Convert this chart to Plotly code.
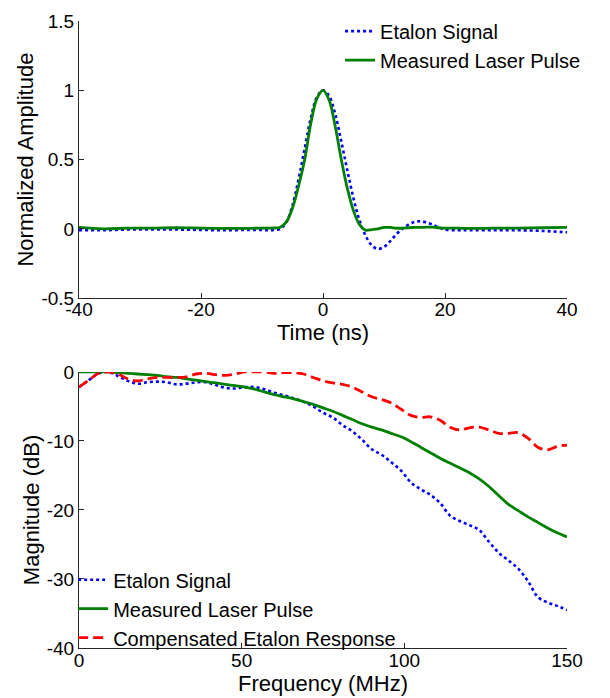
import plotly.graph_objects as go

# top panel: time domain pulse
time_ns = [-40, -36, -32, -28, -24, -20, -16, -12, -10, -9, -8, -7, -6, -5, -4, -3, -2, -1, 0,
           1, 2, 3, 4, 5, 6, 7, 8, 9, 10, 11, 12, 13, 14, 15, 16, 17, 18, 19, 20,
           22, 24, 28, 32, 36, 40]
etalon_time = [-0.01, -0.01, -0.005, -0.005, -0.005, -0.008, -0.01, -0.008, -0.008, -0.01, -0.008, 0.0, 0.05, 0.17,
               0.36, 0.58, 0.8, 0.95, 1.0, 0.96, 0.83, 0.63, 0.42, 0.22, 0.06, -0.05, -0.12, -0.145, -0.13,
               -0.09, -0.04, 0.0, 0.03, 0.05, 0.055, 0.045, 0.03, 0.01, -0.005,
               -0.01, -0.01, -0.01, -0.01, -0.015, -0.025]
laser_time = [0.01, 0.0, 0.005, 0.005, 0.008, 0.005, 0.003, 0.004, 0.005, 0.005, 0.006, 0.012, 0.05, 0.15,
              0.31, 0.5, 0.76, 0.94, 1.0, 0.93, 0.74, 0.5, 0.29, 0.13, 0.03, -0.01, -0.005, 0.0, 0.01,
              0.01, 0.005, 0.005, 0.008, 0.01, 0.01, 0.012, 0.012, 0.008, 0.005,
              0.005, 0.003, 0.005, 0.005, 0.008, 0.01]

# bottom panel: spectra
freq_mhz = [0, 3, 6, 9, 12, 15, 18, 21, 24, 27, 30, 33, 36, 39, 42, 45, 48, 51, 54, 57, 60, 63, 66, 69,
            72, 75, 78, 81, 84, 87, 90, 93, 96, 99, 102, 105, 108, 111, 114, 117, 120, 123, 126,
            129, 132, 135, 138, 141, 144, 147, 150]
etalon_db = [-2.2, -1.2, -0.2, 0.0, -0.6, -1.3, -1.7, -1.5, -1.4, -1.5, -1.8, -1.7, -1.5, -1.5, -1.9, -2.3,
             -2.4, -2.2, -2.2, -2.5, -3.0, -3.4, -3.8, -4.3, -5.0, -5.9, -6.6, -7.7, -8.6, -9.8, -11.2,
             -12.0, -13.1, -14.3, -16.0, -17.0, -17.8, -19.0, -20.8, -21.6, -22.2, -22.9, -24.6, -26.2,
             -27.3, -28.5, -30.3, -32.6, -33.4, -33.9, -34.5]
laser_db = [0.0, 0.0, 0.0, 0.0, -0.1, -0.2, -0.3, -0.4, -0.5, -0.7, -0.8, -1.0, -1.2, -1.4, -1.6, -1.8,
            -2.0, -2.2, -2.5, -2.9, -3.3, -3.6, -3.9, -4.3, -4.7, -5.2, -5.7, -6.3, -6.9, -7.5, -8.0,
            -8.4, -8.9, -9.4, -10.1, -10.9, -11.7, -12.5, -13.2, -13.9, -14.6, -15.5, -16.6, -17.9,
            -19.2, -20.1, -21.0, -21.8, -22.6, -23.3, -23.9]
compensated_db = [-2.2, -1.2, -0.2, 0.0, -0.3, -1.0, -1.3, -1.0, -0.8, -0.8, -0.8, -0.7, -0.3, -0.2, -0.4, -0.5,
                  -0.3, 0.0, 0.0, 0.0, -0.2, -0.1, -0.1, -0.3, -0.8, -1.3, -1.6, -1.8, -2.2, -2.9, -3.6,
                  -4.0, -4.5, -5.4, -6.3, -6.6, -6.5, -7.0, -8.0, -8.4, -8.1, -8.0, -8.4, -8.9, -8.9,
                  -8.8, -9.6, -10.9, -11.3, -10.8, -10.6]

BLUE = "rgb(0,0,255)"
GREEN = "rgb(0,128,0)"
RED = "rgb(255,0,0)"

fig = go.Figure()
fig.add_trace(go.Scatter(x=time_ns, y=etalon_time, name="Etalon Signal", mode="lines",
                         line=dict(color=BLUE, dash="3px,3px", width=2.6, shape="spline"),
                         xaxis="x", yaxis="y", legend="legend"))
fig.add_trace(go.Scatter(x=time_ns, y=laser_time, name="Measured Laser Pulse", mode="lines",
                         line=dict(color=GREEN, width=2.8, shape="spline"),
                         xaxis="x", yaxis="y", legend="legend"))
fig.add_trace(go.Scatter(x=freq_mhz, y=etalon_db, name="Etalon Signal", mode="lines",
                         line=dict(color=BLUE, dash="3px,3px", width=2.6, shape="spline"),
                         xaxis="x2", yaxis="y2", legend="legend2"))
fig.add_trace(go.Scatter(x=freq_mhz, y=laser_db, name="Measured Laser Pulse", mode="lines",
                         line=dict(color=GREEN, width=2.8, shape="spline"),
                         xaxis="x2", yaxis="y2", legend="legend2"))
fig.add_trace(go.Scatter(x=freq_mhz, y=compensated_db, name="Compensated Etalon Response", mode="lines",
                         line=dict(color=RED, dash="10px,5px", width=2.8, shape="spline"),
                         xaxis="x2", yaxis="y2", legend="legend2"))

axis_style = dict(showline=True, linecolor="#262626", linewidth=1, ticks="inside", ticklen=5,
                  tickcolor="#262626", showgrid=False, zeroline=False, mirror=False,
                  automargin=False, tickfont=dict(size=19, color="black"))

fig.update_layout(
    template="none",
    width=610, height=698,
    margin=dict(l=79, r=43, t=12, b=50),
    paper_bgcolor="white", plot_bgcolor="white",
    font=dict(family="Liberation Sans, Arial", color="black"),
    xaxis=dict(domain=[0, 1], anchor="y", range=[-40, 40], ticklabelstandoff=-6,
               tickvals=[-40, -20, 0, 20, 40], ticktext=["-40", "-20", "0", "20", "40"],
               title=dict(text="Time (ns)", font=dict(size=22), standoff=0), **axis_style),
    yaxis=dict(domain=[0.558, 1], anchor="x", range=[-0.5, 1.5],
               tickvals=[-0.5, 0, 0.5, 1, 1.5], ticktext=["-0.5", "0", "0.5", "1", "1.5"],
               title=dict(text="Normalized Amplitude", font=dict(size=22), standoff=1), **axis_style),
    xaxis2=dict(domain=[0, 1], anchor="y2", range=[0, 150], ticklabelstandoff=-5,
                tickvals=[0, 50, 100, 150], ticktext=["0", "50", "100", "150"],
                title=dict(text="Frequency (MHz)", font=dict(size=22), standoff=0), **axis_style),
    yaxis2=dict(domain=[0, 0.4403], anchor="x2", range=[-40, 0],
                tickvals=[-40, -30, -20, -10, 0], ticktext=["-40", "-30", "-20", "-10", "0"],
                title=dict(text="Magnitude (dB)", font=dict(size=22), standoff=1), **axis_style),
    legend=dict(x=0.535, y=1.015, xanchor="left", yanchor="top", bgcolor="rgba(0,0,0,0)",
                font=dict(size=20), tracegroupgap=0, itemwidth=30),
    legend2=dict(x=-0.012, y=0.14, xanchor="left", yanchor="top", bgcolor="rgba(0,0,0,0)",
                 font=dict(size=20), tracegroupgap=0, itemwidth=30),
)

# drop the default 8px page margin so the figure sits at the window corner
fig.write_html("out.html", config={"displayModeBar": False},
               post_script="document.body.style.margin='0';")
